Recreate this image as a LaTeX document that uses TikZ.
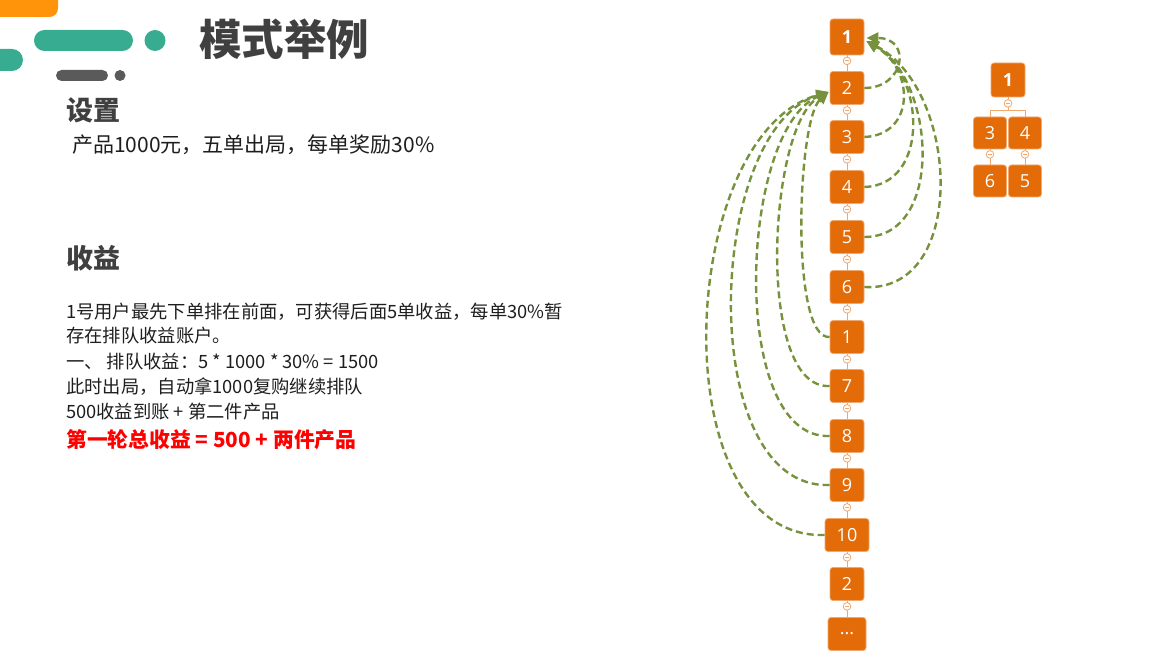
\documentclass[tikz,border=0pt]{standalone}
\usepackage{fontspec}
\setmainfont{Noto Sans CJK SC}
\newfontfamily\numfont{Open Sans}
\usetikzlibrary{arrows.meta}
\definecolor{orangebox}{RGB}{227,108,9}
\definecolor{orangeline}{RGB}{240,168,110}
\definecolor{arrgreen}{RGB}{118,146,60}
\definecolor{titlegray}{RGB}{64,64,64}
\definecolor{tealdeco}{RGB}{55,172,145}
\definecolor{orangedeco}{RGB}{255,148,10}
\definecolor{graydeco}{RGB}{90,90,90}
\definecolor{bodytext}{RGB}{30,30,30}
\tikzset{
  obox/.style={rectangle, rounded corners=3pt, fill=orangebox, draw=orangeline, line width=0.8pt,
    text=white, minimum width=34pt, minimum height=33pt, inner sep=0pt,
    font=\numfont\fontsize{18}{18}\selectfont},
  bbox/.style={obox, font=\numfont\bfseries\fontsize{18}{18}\selectfont},
  link/.style={draw=orangeline, line width=1pt},
  collapse/.style={circle, draw=orangeline, fill=white, line width=0.8pt, minimum size=7.6pt, inner sep=0pt,
    path picture={\draw[orangeline, line width=0.8pt] ([xshift=-2pt]path picture bounding box.center) -- ([xshift=2pt]path picture bounding box.center);}},
  arr/.style={draw=arrgreen, line width=2.4pt, dash pattern=on 7pt off 4pt,
    -{Triangle[length=12pt,width=11pt]}},
  txt/.style={anchor=base west, inner sep=0pt},
}
\begin{document}
\begin{tikzpicture}[x=1pt,y=-1pt]
\useasboundingbox (0,0) rectangle (1163,663);
\clip (0,0) rectangle (1163,663);
% decoration
\fill[orangedeco, rounded corners=8.5pt] (-30,-20) rectangle (58,17);
\fill[tealdeco, rounded corners=10.5pt] (34,30) rectangle (133,51);
\fill[tealdeco] (155,40.5) circle (10.5pt);
\fill[tealdeco, rounded corners=11pt] (-30,49) rectangle (23,71);
\fill[graydeco, rounded corners=5.5pt] (56,70) rectangle (108,81);
\fill[graydeco] (120,75.5) circle (5.5pt);
% texts
\node[txt, text=titlegray, font=\bfseries\fontsize{42.5}{42.5}\selectfont] (title) at (199,56) {模式举例};
\node[txt, text=titlegray, font=\bfseries\fontsize{27}{27}\selectfont] (h1) at (66,121) {设置};
\node[txt, text=bodytext, font=\fontsize{21}{21}\selectfont] (set) at (72,153) {产品1000元，五单出局，每单奖励30\%};
\node[txt, text=titlegray, font=\bfseries\fontsize{27}{27}\selectfont] (h2) at (66,269) {收益};
\node[txt, text=bodytext, font=\fontsize{18.3}{18.3}\selectfont] (b1) at (66,319) {1号用户最先下单排在前面，可获得后面5单收益，每单30\%暂};
\node[txt, text=bodytext, font=\fontsize{18.3}{18.3}\selectfont] (b2) at (66,343) {存在排队收益账户。};
\node[txt, text=bodytext, font=\fontsize{18.3}{18.3}\selectfont] (b3) at (66,368) {一、 排队收益：5 * 1000 * 30\% = 1500};
\node[txt, text=bodytext, font=\fontsize{18.3}{18.3}\selectfont] (b4) at (66,393) {此时出局，自动拿1000复购继续排队};
\node[txt, text=bodytext, font=\fontsize{18.3}{18.3}\selectfont] (b5) at (66,418) {500收益到账 + 第二件产品};
\node[txt, text=red, font=\bfseries\fontsize{20.8}{20.8}\selectfont] (b6) at (66,447) {第一轮总收益 = 500 + 两件产品};
% main column
\node[bbox, minimum height=36pt] (n1) at (847,37) {1};
\node[obox] (n2) at (847,88) {2};
\node[obox] (n3) at (847,137) {3};
\node[obox] (n4) at (847,187) {4};
\node[obox] (n5) at (847,237) {5};
\node[obox] (n6) at (847,287) {6};
\node[obox] (n1b) at (847,337) {1};
\node[obox] (n7) at (847,386) {7};
\node[obox] (n8) at (847,436) {8};
\node[obox] (n9) at (847,485) {9};
\node[obox, minimum width=44pt] (n10) at (847,535) {10};
\node[obox] (n2b) at (847,584) {2};
\node[obox, minimum width=38pt] (ndots) at (847,634) {...};
\foreach \a/\b in {n1/n2,n2/n3,n3/n4,n4/n5,n5/n6,n6/n1b,n1b/n7,n7/n8,n8/n9,n9/n10,n10/n2b,n2b/ndots}{
  \draw[link] (\a.south) -- (\b.north);
  \node[collapse] (c\a) at ([yshift=-5.5pt]\a.south) {};
}
% right tree
\node[bbox, minimum height=34pt] (r1) at (1008,80) {1};
\node[obox, minimum width=33pt, minimum height=32pt] (r3) at (990,133) {3};
\node[obox, minimum width=33pt, minimum height=32pt] (r4) at (1025,133) {4};
\node[obox, minimum width=33pt, minimum height=32pt] (r6) at (990,181) {6};
\node[obox, minimum width=33pt, minimum height=32pt] (r5) at (1025,181) {5};
\draw[link] (r1.south) -- ++(0,13) -| (r3.north);
\draw[link] (r1.south) -- ++(0,13) -| (r4.north);
\draw[link] (r3.south) -- (r6.north);
\draw[link] (r4.south) -- (r5.north);
\node[collapse] (cr1) at ([yshift=-6pt]r1.south) {};
\node[collapse] (cr3) at ([yshift=-5pt]r3.south) {};
\node[collapse] (cr4) at ([yshift=-5pt]r4.south) {};
% right arcs to 1
\draw[arr] (n2.east) .. controls (905,88) and (912,38) .. ([xshift=2pt,yshift=-1pt]n1.east);
\draw[arr] (n3.east) .. controls (915,135) and (915,70) .. ([xshift=2pt,yshift=-4pt]n1.east);
\draw[arr] (n4.east) .. controls (930,185) and (925,75) .. ([xshift=2pt,yshift=-4pt]n1.east);
\draw[arr] (n5.east) .. controls (945,237) and (935,80) .. ([xshift=2pt,yshift=-4pt]n1.east);
\draw[arr] (n6.east) .. controls (968,293) and (960,90) .. ([xshift=2pt,yshift=-4pt]n1.east);
% left arcs to 2
\draw[arr] (n1b.west) .. controls (790,340) and (797,120) .. ([xshift=-1pt,yshift=-4pt]n2.west);
\draw[arr] (n7.west) .. controls (755,390) and (768,125) .. ([xshift=-1pt,yshift=-4pt]n2.west);
\draw[arr] (n8.west) .. controls (728,440) and (739,130) .. ([xshift=-1pt,yshift=-4pt]n2.west);
\draw[arr] (n9.west) .. controls (695,490) and (705,130) .. ([xshift=-1pt,yshift=-4pt]n2.west);
\draw[arr] (n10.west) .. controls (660,540) and (676,135) .. ([xshift=-1pt,yshift=-4pt]n2.west);
\end{tikzpicture}
\end{document}
